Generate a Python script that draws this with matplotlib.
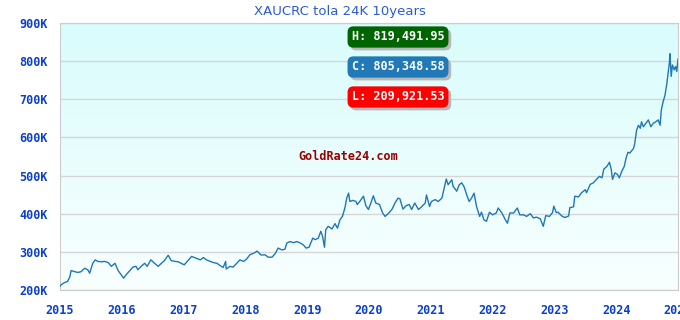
import numpy as np
import matplotlib.pyplot as plt
import matplotlib.patheffects as pe
from matplotlib.colors import LinearSegmentedColormap

# 价格数据 (年份小数, 千 CRC)
years = [
    2015.00, 2015.02, 2015.08, 2015.12, 2015.16, 2015.18, 2015.24, 2015.29, 2015.34, 2015.40,
    2015.45, 2015.48, 2015.53, 2015.57, 2015.61, 2015.67, 2015.72, 2015.78, 2015.83, 2015.89,
    2015.94, 2015.99, 2016.03, 2016.07, 2016.13, 2016.18, 2016.23, 2016.26, 2016.32, 2016.37,
    2016.41, 2016.47, 2016.53, 2016.59, 2016.64, 2016.69, 2016.75, 2016.80, 2016.86, 2016.91,
    2016.96, 2017.01, 2017.08, 2017.13, 2017.21, 2017.27, 2017.32, 2017.37, 2017.43, 2017.48,
    2017.54, 2017.59, 2017.64, 2017.68, 2017.69, 2017.75, 2017.80, 2017.86, 2017.91, 2017.97,
    2018.02, 2018.07, 2018.14, 2018.19, 2018.25, 2018.32, 2018.37, 2018.43, 2018.48, 2018.53,
    2018.59, 2018.64, 2018.67, 2018.72, 2018.78, 2018.83, 2018.88, 2018.94, 2018.98, 2019.03,
    2019.09, 2019.13, 2019.18, 2019.22, 2019.25, 2019.28, 2019.30, 2019.34, 2019.40, 2019.45,
    2019.49, 2019.53, 2019.57, 2019.61, 2019.64, 2019.67, 2019.69, 2019.74, 2019.79, 2019.81,
    2019.85, 2019.91, 2019.95, 2019.99, 2020.03, 2020.07, 2020.11, 2020.17, 2020.22, 2020.26,
    2020.31, 2020.37, 2020.42, 2020.47, 2020.50, 2020.55, 2020.60, 2020.65, 2020.69, 2020.74,
    2020.80, 2020.85, 2020.91, 2020.93, 2020.98, 2021.01, 2021.07, 2021.12, 2021.18, 2021.21,
    2021.25, 2021.28, 2021.34, 2021.36, 2021.42, 2021.46, 2021.50, 2021.54, 2021.58, 2021.62,
    2021.66, 2021.70, 2021.74, 2021.79, 2021.82, 2021.86, 2021.90, 2021.95, 2022.00, 2022.06,
    2022.09, 2022.15, 2022.20, 2022.24, 2022.28, 2022.34, 2022.40, 2022.44, 2022.50, 2022.55,
    2022.61, 2022.66, 2022.71, 2022.77, 2022.82, 2022.86, 2022.92, 2022.97, 2022.99, 2023.03,
    2023.06, 2023.12, 2023.17, 2023.23, 2023.25, 2023.31, 2023.33, 2023.39, 2023.44, 2023.50,
    2023.52, 2023.58, 2023.63, 2023.68, 2023.73, 2023.77, 2023.80, 2023.85, 2023.89, 2023.92,
    2023.94, 2023.98, 2024.02, 2024.05, 2024.09, 2024.13, 2024.16, 2024.19, 2024.22, 2024.28,
    2024.30, 2024.33, 2024.36, 2024.39, 2024.41, 2024.44, 2024.48, 2024.52, 2024.56, 2024.60,
    2024.64, 2024.68, 2024.71, 2024.73, 2024.76, 2024.79, 2024.82, 2024.84, 2024.86, 2024.87,
    2024.89, 2024.91, 2024.94, 2024.96, 2024.98, 2025.00,
]
prices_k = [
    209.92, 214, 220, 222, 235, 251, 248, 246, 248, 257,
    253, 244, 270, 279, 275, 274, 275, 272, 262, 270,
    251, 240, 231, 240, 251, 260, 262, 253, 263, 270,
    262, 279, 270, 262, 270, 277, 291, 277, 275, 274,
    270, 266, 279, 288, 283, 279, 285, 279, 275, 272,
    270, 264, 259, 275, 255, 262, 260, 270, 279, 275,
    281, 292, 297, 302, 292, 292, 286, 286, 295, 310,
    305, 307, 323, 327, 324, 327, 324, 318, 310, 312,
    336, 332, 336, 354, 340, 312, 358, 367, 360, 374,
    362, 384, 393, 415, 441, 454, 432, 435, 432, 424,
    432, 446, 421, 411, 428, 447, 428, 424, 402, 393,
    400, 411, 428, 441, 439, 412, 421, 424, 411, 428,
    411, 418, 428, 449, 419, 432, 437, 432, 441, 463,
    491, 476, 489, 472, 459, 476, 481, 470, 450, 432,
    441, 454, 419, 393, 404, 384, 380, 404, 397, 402,
    415, 402, 386, 375, 402, 402, 415, 397, 397, 393,
    400, 389, 391, 387, 367, 395, 393, 403, 420, 403,
    404, 394, 390, 394, 416, 418, 446, 444, 455, 463,
    455, 477, 481, 490, 498, 494, 517, 524, 535, 516,
    490, 507, 503, 494, 511, 524, 546, 561, 559, 571,
    584, 619, 632, 624, 641, 628, 637, 646, 628, 637,
    641, 646, 632, 672, 694, 711, 742, 768, 795, 819.49,
    760, 790, 777, 786, 773, 805.35,
]

title = 'XAUCRC tola 24K 10years'
high_val, close_val, low_val = 819491.95, 805348.58, 209921.53
x_ticks = list(range(2015, 2026))
y_ticks = [200, 300, 400, 500, 600, 700, 800, 900]

tick_blue = '#0a3fcf'
mono = 'DejaVu Sans Mono'

fig = plt.figure(figsize=(6.8, 3.2), dpi=100)
ax = fig.add_axes([60 / 680, 30 / 320, 618 / 680, 267 / 320])

# 背景渐变
cmap = LinearSegmentedColormap.from_list('bg', ['#f9ffff', '#d9fcfc'])
grad = np.linspace(0, 1, 256).reshape(-1, 1)
ax.imshow(grad, cmap=cmap, aspect='auto', extent=[0, 1, 0, 1],
          transform=ax.transAxes, origin='lower', zorder=0)

ax.plot(years, np.array(prices_k) * 1000, color='#1f77b4', lw=1.0, zorder=3)

ax.set_xlim(2015, 2025)
ax.set_ylim(200000, 900000)
ax.set_xticks(x_ticks)
ax.set_xticklabels([str(y) for y in x_ticks])
ax.set_yticks([v * 1000 for v in y_ticks])
ax.set_yticklabels([f'{v}K' for v in y_ticks])
ax.tick_params(length=0, colors=tick_blue)
ax.tick_params(axis='y', pad=9)
ax.tick_params(axis='x', pad=10)
for lab in ax.get_xticklabels() + ax.get_yticklabels():
    lab.set_fontfamily(mono)
    lab.set_fontweight('bold')
    lab.set_fontsize(8.5)
ax.grid(axis='y', color='#d6d6d6', lw=1, zorder=1)
for s in ax.spines.values():
    s.set_color('#cccccc')

fig.text(0.5, 1 - 11 / 320, title, ha='center', va='center',
         color='#2a5bd7', fontsize=9.5)

# 标签框 (带阴影)
boxes = [('H: ' + f'{high_val:,.2f}', '#006400', 37),
         ('C: ' + f'{close_val:,.2f}', '#2179b8', 67),
         ('L: ' + f'{low_val:,.2f}', '#ff0000', 97)]
for txt, col, yp in boxes:
    t = fig.text(398 / 680, 1 - yp / 320, txt, ha='center', va='center',
                 fontsize=8.5, fontfamily=mono, fontweight='bold', color='white',
                 bbox=dict(boxstyle='round,pad=0.35,rounding_size=0.5', fc=col, ec='none'))
    t.get_bbox_patch().set_path_effects([
        pe.SimplePatchShadow(offset=(2, -2), shadow_rgbFace='#b8b8b8', alpha=1),
        pe.Normal()])

fig.text(348 / 680, 1 - 157 / 320, 'GoldRate24.com', ha='center', va='center',
         fontsize=8.5, fontfamily=mono, fontweight='bold', color='#990000')

fig.savefig('out.png', dpi=100)
